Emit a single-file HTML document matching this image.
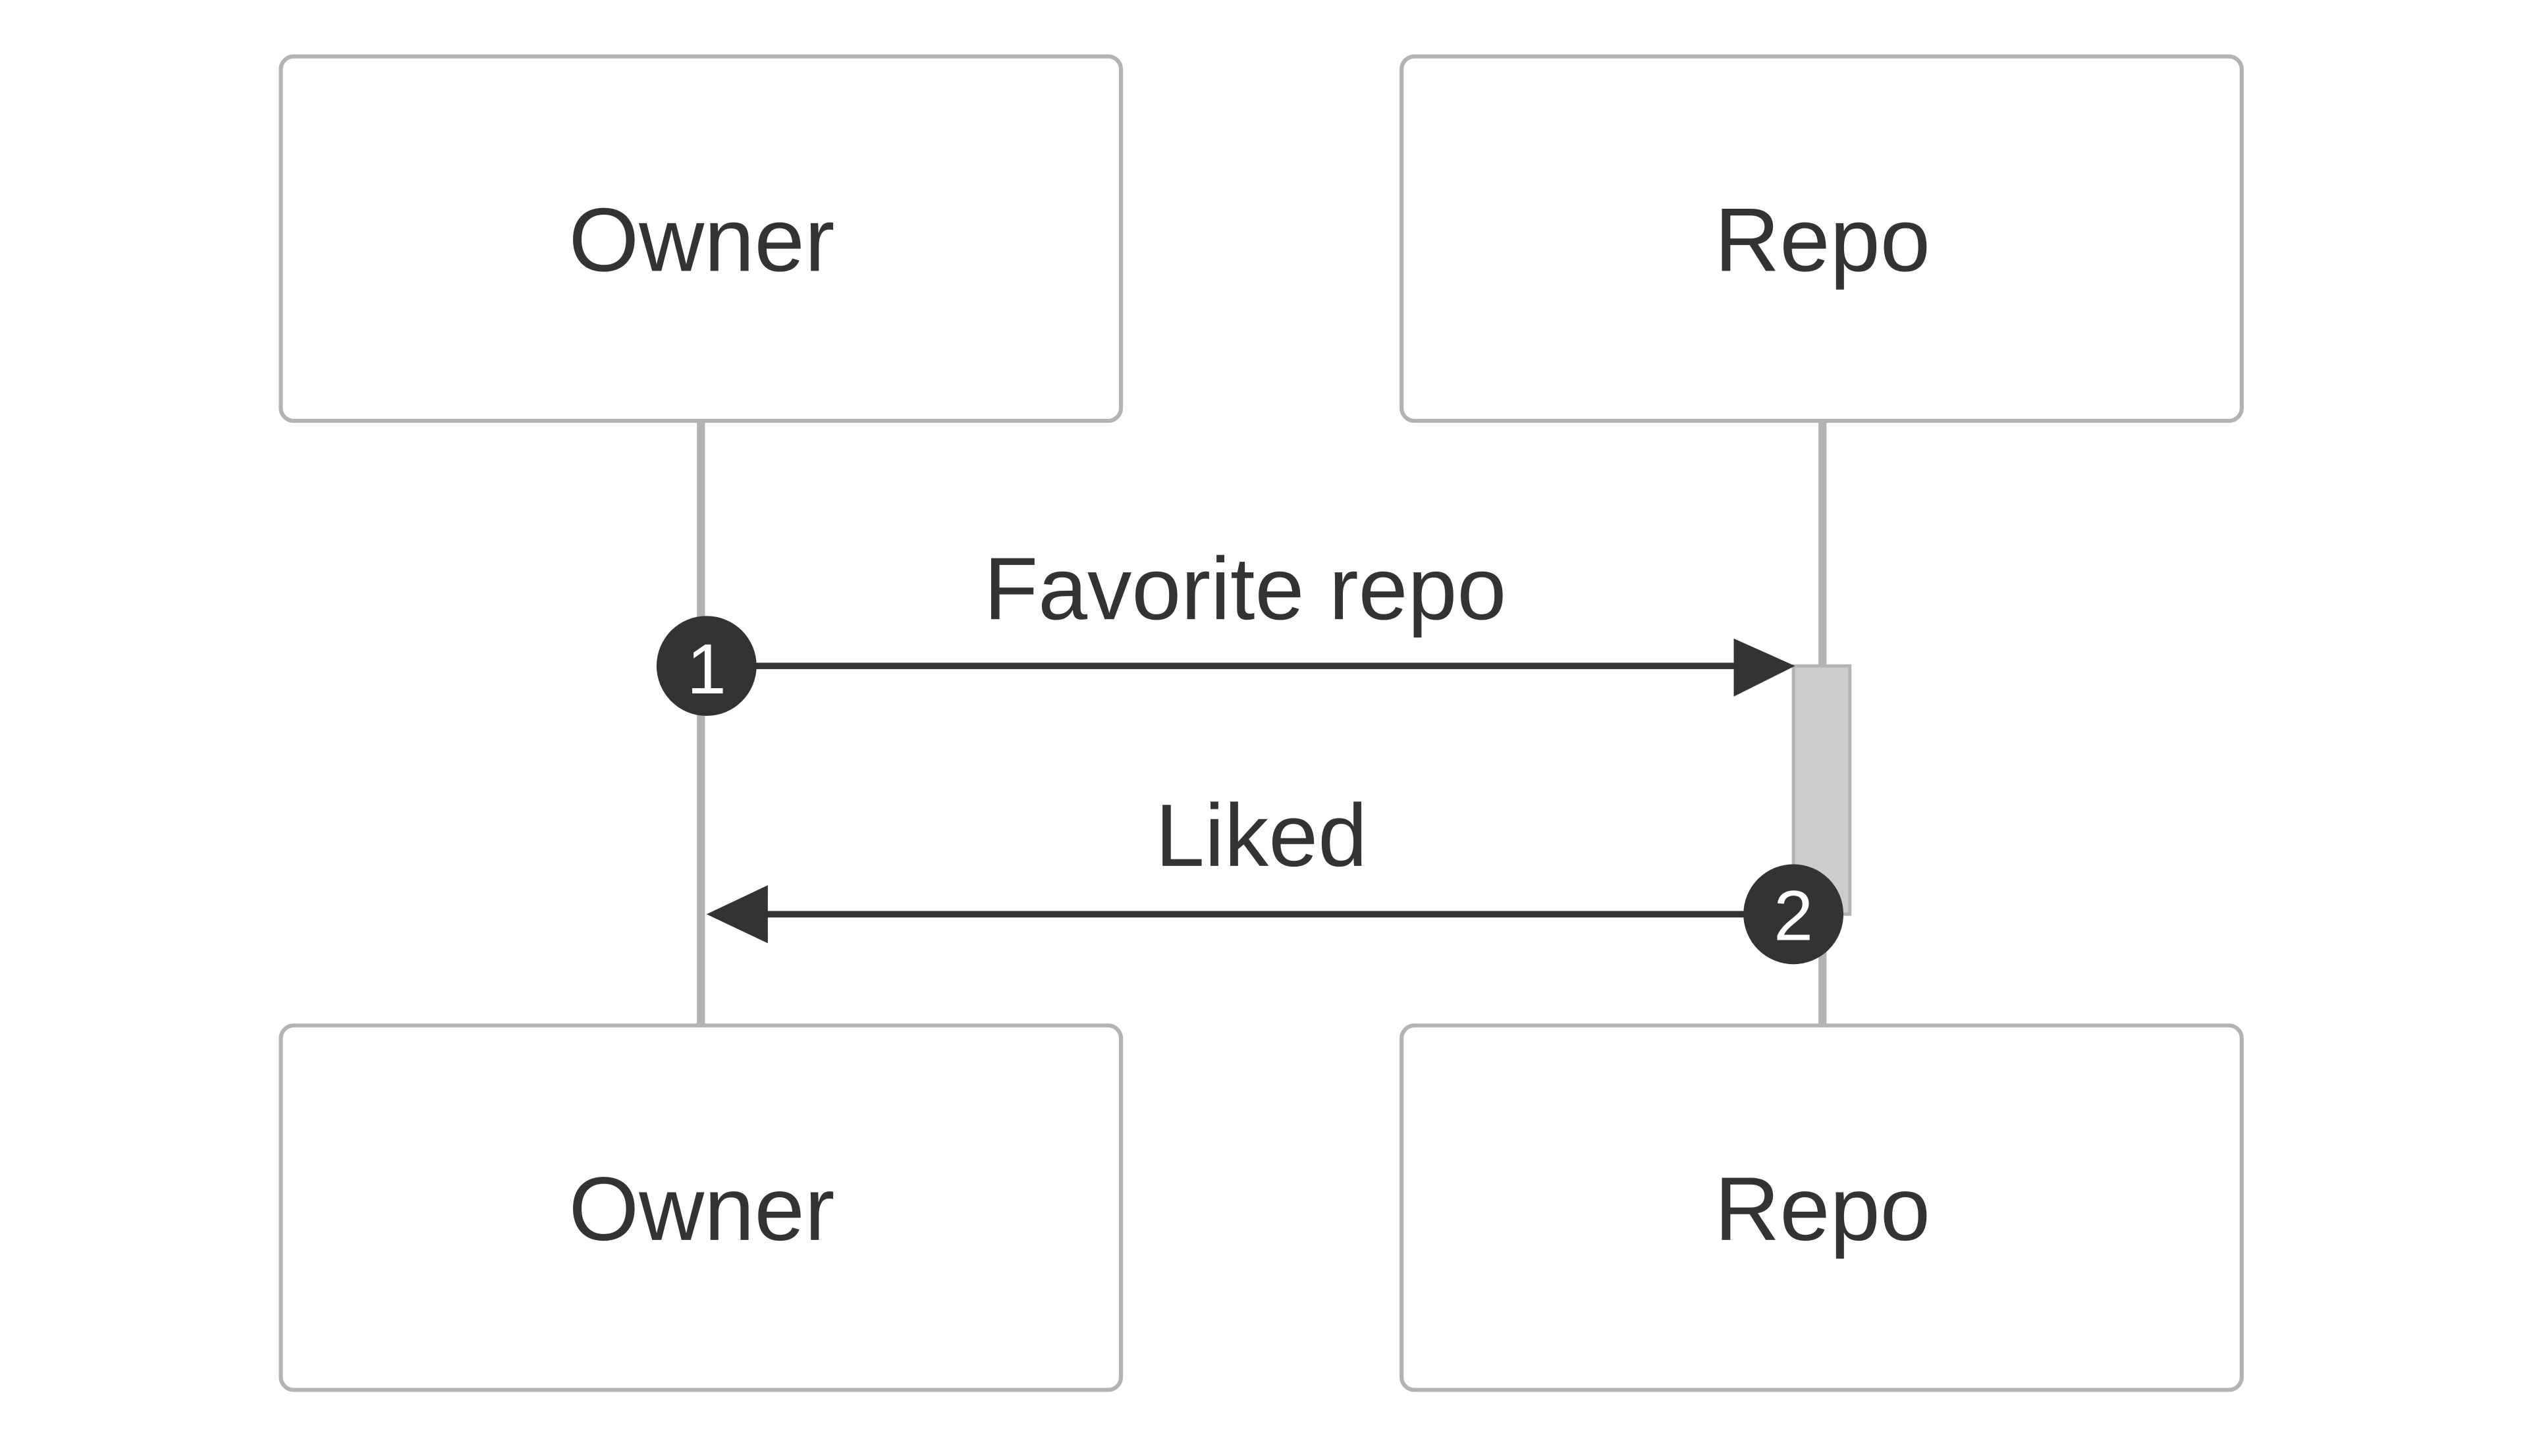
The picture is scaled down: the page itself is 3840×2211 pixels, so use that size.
<!DOCTYPE html>
<html><head><style>html,body{margin:0;padding:0;background:#fff;}svg{display:block}</style></head>
<body>
<svg width="3840" height="2211" viewBox="0 0 1568 903" xmlns="http://www.w3.org/2000/svg" font-family="Liberation Sans, Arial, sans-serif">
<rect width="1568" height="903" fill="#fff"/>
<line x1="434.5" y1="261" x2="434.5" y2="636" stroke="#b3b3b3" stroke-width="5"/>
<line x1="1130" y1="261" x2="1130" y2="636" stroke="#b3b3b3" stroke-width="5"/>
<g fill="#fff" stroke="#b3b3b3" stroke-width="2.5">
<rect x="174" y="35" width="521" height="226" rx="8"/>
<rect x="869" y="35" width="521" height="226" rx="8"/>
<rect x="174" y="636" width="521" height="226" rx="8"/>
<rect x="869" y="636" width="521" height="226" rx="8"/>
</g>
<g fill="#333" font-size="56" text-anchor="middle">
<text x="435" y="168">Owner</text>
<text x="1130" y="168">Repo</text>
<text x="435" y="769">Owner</text>
<text x="1130" y="769">Repo</text>
<text x="772" y="384" font-size="55">Favorite repo</text>
<text x="782" y="537" font-size="55">Liked</text>
</g>
<rect x="1112" y="413" width="35" height="154" fill="#ccc" stroke="#b3b3b3" stroke-width="2"/>
<line x1="438" y1="413" x2="1080" y2="413" stroke="#333" stroke-width="4"/>
<polygon points="1075,396 1113,413 1075,432" fill="#333"/>
<line x1="475" y1="567" x2="1112" y2="567" stroke="#333" stroke-width="4"/>
<polygon points="476,549 438,567 476,585" fill="#333"/>
<circle cx="438" cy="413" r="31" fill="#333"/>
<text x="438" y="430" fill="#fff" font-size="44" text-anchor="middle">1</text>
<circle cx="1112" cy="567" r="31" fill="#333"/>
<text x="1112" y="583" fill="#fff" font-size="44" text-anchor="middle">2</text>
</svg>
</body></html>
